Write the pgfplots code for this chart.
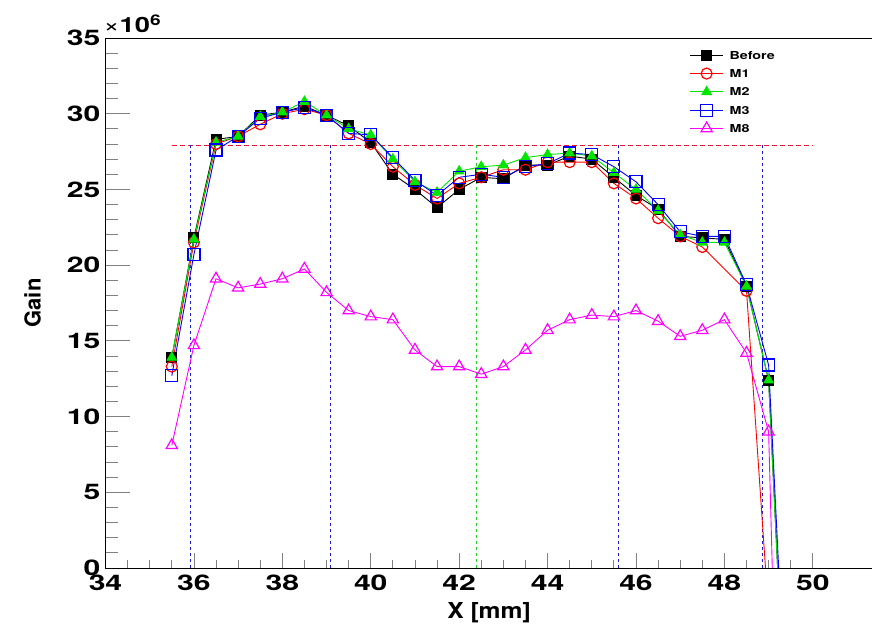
\documentclass[border=0pt]{standalone}
\usepackage{fontspec}
\setmainfont{TeX Gyre Heros}
\newfontfamily\tickfont[FakeStretch=1.4]{TeX Gyre Heros}
\newfontfamily\legfont[FakeStretch=1.3]{TeX Gyre Heros}
\newfontfamily\xlabfont[FakeStretch=1.12]{TeX Gyre Heros}
\usepackage{pgfplots}
\pgfplotsset{compat=1.18}
\definecolor{rootred}{RGB}{255,0,0}
\definecolor{rootgreen}{RGB}{0,230,0}
\definecolor{rootblue}{RGB}{0,0,255}
\definecolor{rootmag}{RGB}{255,0,255}
\definecolor{guideblue}{RGB}{30,30,200}
\definecolor{guidegreen}{RGB}{40,210,40}
\definecolor{guidered}{RGB}{240,20,50}
\begin{document}
\begin{tikzpicture}
\path[use as bounding box] (-105.5pt,-68pt) rectangle (766.5pt,568pt);
\begin{axis}[
  name=ax,
  width=767pt, height=530pt, scale only axis,
  xmin=34, xmax=51.35, ymin=0, ymax=35,
  xtick={34,36,...,50}, minor x tick num=3,
  ytick={0,5,...,35}, minor y tick num=4,
  xtick pos=bottom, ytick pos=left, tick align=inside,
  xtick style={/pgfplots/major tick length=15pt,/pgfplots/minor tick length=8pt, line width=0.8pt},
  ytick style={/pgfplots/major tick length=24pt,/pgfplots/minor tick length=12pt, line width=0.8pt},
  axis line style={line width=0.9pt},
  /pgf/number format/assume math mode=true,
  ticklabel style={font=\fontsize{21.5}{24}\tickfont\bfseries},
  yticklabel style={anchor=east, inner sep=0pt, xshift=-5pt},
  xticklabel style={anchor=north, inner sep=0pt, yshift=-7pt},
  xlabel={X [mm]}, ylabel={Gain},
  xlabel style={font=\fontsize{22}{24}\xlabfont\bfseries, at={(rel axis cs:0.5,-0.085)}, anchor=center},
  ylabel style={font=\fontsize{22}{24}\selectfont\bfseries, at={(rel axis cs:-0.0952,0.5)}, anchor=center},
  legend style={at={(rel axis cs:0.7614,0.98)}, anchor=north west, draw=none, fill=none,
    inner sep=0pt, font=\fontsize{11}{12}\legfont\bfseries,
    nodes={inner sep=0pt, text height=8pt, text depth=0pt},
    row sep=5.3pt, column sep=6pt},
  legend cell align=left,
  legend image code/.code={\path[draw=none,fill=none] (0pt,-6.5pt) rectangle (33pt,6.5pt); \draw[mark repeat=2,mark phase=2,#1] plot coordinates {(0pt,0pt) (16.5pt,0pt) (33pt,0pt)};},
  every axis plot/.append style={line width=0.9pt},
]
% guide lines
\addplot[draw=guidered, no markers, line width=1.2pt, dash pattern=on 5pt off 3pt, forget plot] table {
x y
35.5 27.9
50.0 27.9
};
\addplot[color=guideblue, dash pattern=on 3pt off 3pt, line width=1pt, forget plot] coordinates {(35.92,0) (35.92,27.9)};
\addplot[color=guideblue, dash pattern=on 3pt off 3pt, line width=1pt, forget plot] coordinates {(39.1,0) (39.1,27.9)};
\addplot[color=guidegreen, dash pattern=on 3pt off 3pt, line width=1pt, forget plot] coordinates {(42.4,0) (42.4,27.9)};
\addplot[color=guideblue, dash pattern=on 3pt off 3pt, line width=1pt, forget plot] coordinates {(45.6,0) (45.6,27.9)};
\addplot[color=guideblue, dash pattern=on 3pt off 3pt, line width=1pt, forget plot] coordinates {(48.87,0) (48.87,27.9)};
% Before
\addplot[black, mark=square*, mark size=5pt, mark options={solid}] table {
x y
35.5 13.9
36 21.8
36.5 28.3
37 28.5
37.5 29.9
38 30.1
38.5 30.5
39 29.9
39.5 29.2
40 28.1
40.5 26.0
41 25.0
41.5 23.8
42 25.0
42.5 25.8
43 25.7
43.5 26.6
44 26.6
44.5 27.2
45 27.0
45.5 25.8
46 24.6
46.5 23.7
47 21.9
47.5 21.8
48 21.7
48.5 18.6
49 12.4
49.5 -18
};
\addlegendentry{Before}
% M1
\addplot[rootred, mark=o, mark size=5.5pt, mark options={line width=1.2pt}] table {
x y
35.5 13.3
36 21.5
36.5 28.0
37 28.5
37.5 29.3
38 30.0
38.5 30.3
39 29.9
39.5 28.7
40 28.0
40.5 26.5
41 25.3
41.5 24.4
42 25.4
42.5 25.8
43 26.3
43.5 26.3
44 26.8
44.5 26.8
45 26.8
45.5 25.4
46 24.4
46.5 23.1
47 21.9
47.5 21.2
48.5 18.3
49.5 -24.3
};
\addlegendentry{M1}
% M2
\addplot[rootgreen, mark=triangle*, mark size=5.5pt] table {
x y
35.5 13.9
36 21.7
36.5 28.1
37 28.5
37.5 29.8
38 30.1
38.5 30.8
39 29.9
39.5 29.0
40 28.6
40.5 27.0
41 25.5
41.5 24.8
42 26.2
42.5 26.5
43 26.6
43.5 27.1
44 27.3
44.5 27.4
45 27.2
45.5 26.1
46 25.0
46.5 23.6
47 22.0
47.5 21.5
48 21.5
48.5 18.6
49 12.4
49.5 -18
};
\addlegendentry{M2}
% M3
\addplot[rootblue, mark=square, mark size=6pt, mark options={line width=1.2pt}] table {
x y
35.5 12.7
36 20.7
36.5 27.6
37 28.5
37.5 29.7
38 30.1
38.5 30.4
39 29.9
39.5 28.7
40 28.6
40.5 27.1
41 25.6
41.5 24.6
42 25.8
42.5 26.0
43 25.8
43.5 26.5
44 26.7
44.5 27.4
45 27.3
45.5 26.5
46 25.5
46.5 24.0
47 22.2
47.5 21.9
48 21.9
48.5 18.7
49 13.4
49.5 -16
};
\addlegendentry{M3}
% M8
\addplot[rootmag, mark=triangle, mark size=6.5pt, mark options={line width=1.2pt}] table {
x y
35.5 8.1
36 14.7
36.5 19.1
37 18.5
37.5 18.75
38 19.1
38.5 19.75
39 18.2
39.5 17.0
40 16.6
40.5 16.4
41 14.4
41.5 13.3
42 13.3
42.5 12.8
43 13.3
43.5 14.4
44 15.7
44.5 16.4
45 16.7
45.5 16.6
46 17.0
46.5 16.3
47 15.3
47.5 15.7
48 16.4
48.5 14.2
49 9.0
49.5 -45
};
\addlegendentry{M8}
\end{axis}
\node[anchor=base west, inner sep=0pt, font=\fontsize{21}{24}\legfont] at ([xshift=-2pt, yshift=5pt]ax.north west) {×\textbf{10}\textsuperscript{\textbf{6}}};
\end{tikzpicture}
\end{document}
